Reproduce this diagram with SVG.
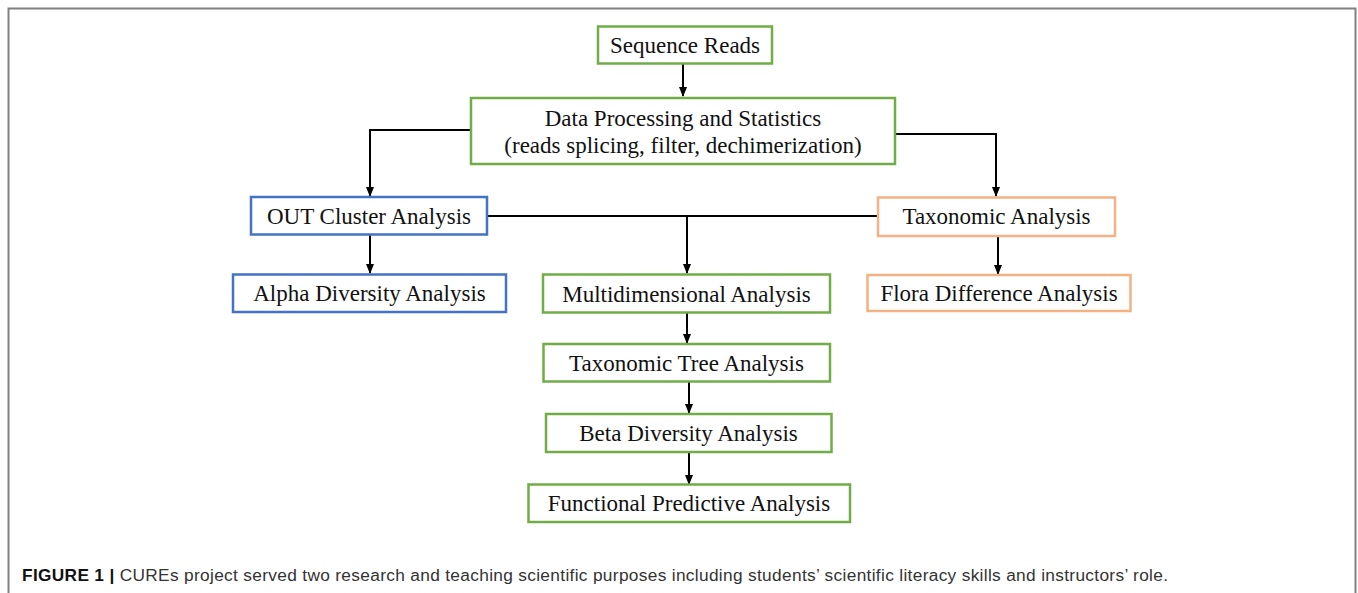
<svg xmlns="http://www.w3.org/2000/svg" width="1358" height="593" viewBox="0 0 1358 593">
<style>
.box{fill:#fff;stroke-width:2.5}
.g{stroke:#70AD47}
.b{stroke:#4472C4}
.o{stroke:#F4B183}
.t{font-family:"Liberation Serif","Times New Roman",serif;font-size:23px;fill:#111;text-anchor:middle}
.c{stroke:#000;stroke-width:2;fill:none}
.cap{font-family:"Liberation Sans",Arial,sans-serif;font-size:17.3px;fill:#333}
</style>
<defs>
<marker id="ah" markerWidth="10" markerHeight="10" refX="9" refY="5" orient="auto" markerUnits="userSpaceOnUse">
<path d="M0,1 L10,5 L0,9 Z" fill="#000"/>
</marker>
</defs>
<rect x="0" y="0" width="1358" height="593" fill="#fff"/>
<path d="M8.5,593 V8.5 H1355.5 V593" fill="none" stroke="#808080" stroke-width="2"/>
<g id="connectors">
<line class="c" x1="683" y1="64" x2="683" y2="96" marker-end="url(#ah)"/>
<polyline class="c" points="471,130 370,130 370,196" marker-end="url(#ah)"/>
<polyline class="c" points="895,134 996,134 996,196" marker-end="url(#ah)"/>
<line class="c" x1="370" y1="235" x2="370" y2="273" marker-end="url(#ah)"/>
<line class="c" x1="998" y1="236" x2="998" y2="274" marker-end="url(#ah)"/>
<line class="c" x1="487" y1="216" x2="878" y2="216"/>
<line class="c" x1="687" y1="216" x2="687" y2="273" marker-end="url(#ah)"/>
<line class="c" x1="687" y1="313" x2="687" y2="343" marker-end="url(#ah)"/>
<line class="c" x1="689" y1="382" x2="689" y2="413" marker-end="url(#ah)"/>
<line class="c" x1="689" y1="452" x2="689" y2="484" marker-end="url(#ah)"/>
</g>
<g id="seq"><rect class="box g" x="598" y="26.5" width="174" height="37"/><text class="t" x="685" y="53">Sequence Reads</text></g>
<g id="dp"><rect class="box g" x="471" y="98" width="424" height="66"/><text class="t" x="683" y="126">Data Processing and Statistics</text><text class="t" x="683" y="153">(reads splicing, filter, dechimerization)</text></g>
<g id="out"><rect class="box b" x="251" y="197" width="236" height="37.5"/><text class="t" x="369" y="224">OUT Cluster Analysis</text></g>
<g id="alpha"><rect class="box b" x="233" y="274.5" width="273" height="37.5"/><text class="t" x="369.5" y="301">Alpha Diversity Analysis</text></g>
<g id="tax"><rect class="box o" x="878" y="197.5" width="237" height="38.5"/><text class="t" x="996.5" y="224">Taxonomic Analysis</text></g>
<g id="flora"><rect class="box o" x="867.5" y="275" width="263" height="36"/><text class="t" x="999" y="301">Flora Difference Analysis</text></g>
<g id="multi"><rect class="box g" x="543" y="274.5" width="287" height="38"/><text class="t" x="686.5" y="302">Multidimensional Analysis</text></g>
<g id="tree"><rect class="box g" x="543.5" y="344" width="286.5" height="37.5"/><text class="t" x="686.5" y="371">Taxonomic Tree Analysis</text></g>
<g id="beta"><rect class="box g" x="546" y="414" width="285.5" height="38"/><text class="t" x="688.5" y="441">Beta Diversity Analysis</text></g>
<g id="func"><rect class="box g" x="528.5" y="484.5" width="321.5" height="37.5"/><text class="t" x="689" y="511">Functional Predictive Analysis</text></g>
<text class="cap" x="22" y="581" textLength="1146" lengthAdjust="spacing"><tspan font-weight="bold" fill="#111">FIGURE 1 | </tspan>CUREs project served two research and teaching scientific purposes including students’ scientific literacy skills and instructors’ role.</text>
</svg>
